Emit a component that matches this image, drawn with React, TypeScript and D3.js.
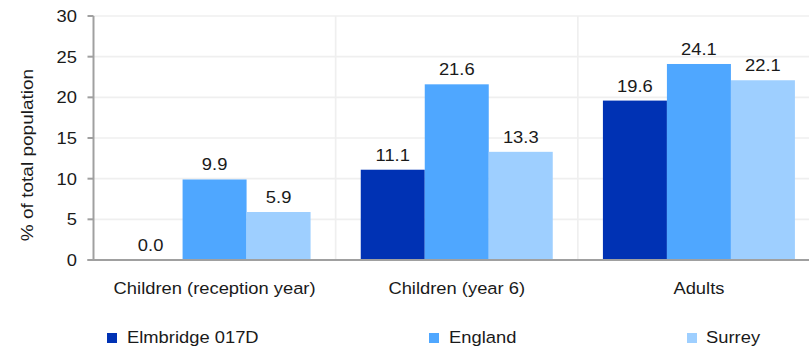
import React from "react";
import * as d3 from "d3";

const categories = ["Children (reception year)", "Children (year 6)", "Adults"];
const seriesNames = ["Elmbridge 017D", "England", "Surrey"];
const elmbridge = [0.0, 11.1, 19.6];
const england = [9.9, 21.6, 24.1];
const surrey = [5.9, 13.3, 22.1];
const yTicks = [0, 5, 10, 15, 20, 25, 30];
const colors = ["#0032B4", "#4FA7FF", "#9ECFFF"];

const SX = 1.08;

function T(props: { x: number; y: number; anchor?: string; size?: number; children: any; rotate?: boolean; sx?: number }) {
  const { x, y, anchor = "start", size = 17, children, rotate, sx = SX } = props;
  const tr = rotate
    ? `translate(${x},${y}) rotate(-90) scale(${sx},1)`
    : `translate(${x},${y}) scale(${sx},1)`;
  return (
    <text transform={tr} textAnchor={anchor} fontSize={size} fill="#1a1a1a">{children}</text>
  );
}

export default function App() {
  const W = 809, H = 348;
  const left = 93.5, right = 820, top = 16, bottom = 260;
  const series = [elmbridge, england, surrey];
  const x = d3.scaleBand<string>().domain(categories).range([left, right]).paddingInner(0).paddingOuter(0);
  const y = d3.scaleLinear().domain([0, 30]).range([bottom, top]);
  const inner = d3.scaleBand<string>().domain(seriesNames).range([0, 192]);
  const font = "'Liberation Sans', Arial, sans-serif";
  const legendX = [107, 429, 687];
  const legendTextX = [127, 449, 706];
  return (
    <svg width={W} height={H} style={{ position: "absolute", left: 0, top: 0, display: "block" }} fontFamily={font}>
      {yTicks.filter(t => t > 0).map(t => (
        <line key={"h" + t} x1={left} x2={right} y1={y(t)} y2={y(t)} stroke="#efefef" strokeWidth={1.7} />
      ))}
      {categories.slice(1).map(c => (
        <line key={"v" + c} x1={x(c)!} x2={x(c)!} y1={top} y2={bottom} stroke="#efefef" strokeWidth={1.7} />
      ))}
      {categories.map((c, ci) => {
        const cx = x(c)! + x.bandwidth() / 2 - 96;
        return series.map((s, si) => {
          const v = s[ci];
          const bx = cx + inner(seriesNames[si])!;
          return (
            <g key={c + si}>
              <rect x={bx} y={y(v)} width={inner.bandwidth()} height={bottom - y(v)} fill={colors[si]} />
              <T x={bx + inner.bandwidth() / 2} y={y(v) - 9} anchor="middle">{v.toFixed(1)}</T>
            </g>
          );
        });
      })}
      <line x1={left} x2={left} y1={top} y2={bottom} stroke="#a0a0a0" strokeWidth={2} />
      <line x1={left - 6} x2={right} y1={bottom} y2={bottom} stroke="#a0a0a0" strokeWidth={2} />
      {yTicks.map(t => (
        <g key={"t" + t}>
          <line x1={left - 6} x2={left} y1={y(t)} y2={y(t)} stroke="#a0a0a0" strokeWidth={2} />
          <T x={77} y={y(t) + 6} anchor="end">{t}</T>
        </g>
      ))}
      <T x={33} y={155} anchor="middle" rotate sx={1.12}>% of total population</T>
      {categories.map(c => (
        <T key={"c" + c} x={x(c)! + x.bandwidth() / 2} y={294} anchor="middle">{c}</T>
      ))}
      {seriesNames.map((n, i) => (
        <g key={"l" + n}>
          <rect x={legendX[i]} y={333} width={10} height={10} fill={colors[i]} />
          <T x={legendTextX[i]} y={343}>{n}</T>
        </g>
      ))}
    </svg>
  );
}
